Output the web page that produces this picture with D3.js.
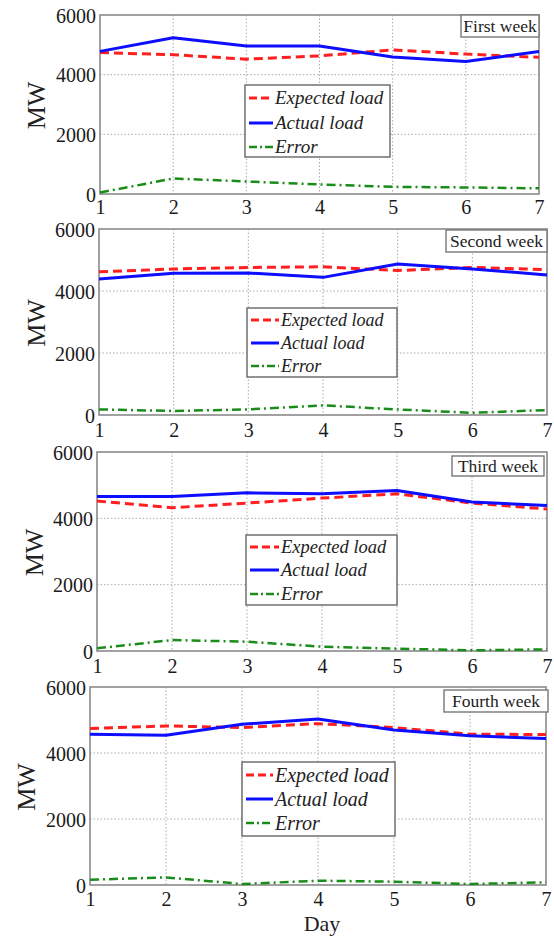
<!DOCTYPE html>
<html><head><meta charset="utf-8">
<script src="https://cdn.jsdelivr.net/npm/d3@7"></script>
<style>body{margin:0;background:#fff}svg{display:block}</style>
</head><body>
<script>
const days = [1, 2, 3, 4, 5, 6, 7];
const yTickValues = [0, 2000, 4000, 6000];
const weekTitles = ["First week", "Second week", "Third week", "Fourth week"];
const seriesNames = ["Expected load", "Actual load", "Error"];
const xAxisTitle = "Day";
const yAxisTitle = "MW";

const expectedWeek1 = [4740, 4670, 4520, 4630, 4830, 4690, 4580];
const actualWeek1   = [4780, 5240, 4960, 4960, 4590, 4440, 4780];
const errorWeek1    = [50, 520, 420, 320, 240, 220, 190];

const expectedWeek2 = [4620, 4710, 4760, 4780, 4660, 4760, 4690];
const actualWeek2   = [4390, 4570, 4580, 4440, 4870, 4710, 4520];
const errorWeek2    = [180, 130, 180, 310, 180, 70, 160];

const expectedWeek3 = [4520, 4320, 4460, 4610, 4740, 4460, 4280];
const actualWeek3   = [4660, 4660, 4770, 4740, 4840, 4490, 4390];
const errorWeek3    = [80, 330, 280, 130, 70, 20, 50];

const expectedWeek4 = [4740, 4820, 4770, 4890, 4770, 4570, 4560];
const actualWeek4   = [4570, 4540, 4870, 5030, 4700, 4520, 4440];
const errorWeek4    = [160, 230, 30, 130, 100, 30, 80];

const weeks = [
  {expected: expectedWeek1, actual: actualWeek1, error: errorWeek1},
  {expected: expectedWeek2, actual: actualWeek2, error: errorWeek2},
  {expected: expectedWeek3, actual: actualWeek3, error: errorWeek3},
  {expected: expectedWeek4, actual: actualWeek4, error: errorWeek4}
];

// layout (pixel geometry) per panel
const layout = [
  {left:100, right:539, top:15,  bottom:194, xLab:214, mwX:36, leg:{x:245,y:85, w:145,h:72, rows:[98,123,147], tx:275, fs:19}, tb:{x:461,y:15, w:78, h:22}},
  {left:99,  right:547, top:229, bottom:415, xLab:437, mwX:36, leg:{x:247,y:308,w:150,h:69, rows:[320,343,366], tx:281, fs:18}, tb:{x:446,y:230,w:101,h:22}},
  {left:97,  right:547, top:452, bottom:651, xLab:673, mwX:34, leg:{x:246,y:535,w:151,h:70, rows:[547,570,594], tx:281, fs:18.5}, tb:{x:452,y:456,w:92, h:20}},
  {left:90,  right:546, top:687, bottom:885, xLab:906, mwX:26, leg:{x:242,y:762,w:153,h:74, rows:[775,799,823], tx:275, fs:20}, tb:{x:444,y:690,w:104,h:22}}
];

const styles = [
  {key:"expected", color:"#ff1f1f", width:3,   dash:"9,5"},
  {key:"actual",   color:"#0d0dff", width:3,   dash:null},
  {key:"error",    color:"#1a8c1a", width:2.5, dash:"9,4,2,4"}
];

const svg = d3.select("body").append("svg").attr("width", 554).attr("height", 939);
const serif = "'Liberation Serif','Times New Roman',serif";

layout.forEach((L, i) => {
  const w = weeks[i];
  const x = d3.scaleLinear().domain([1, 7]).range([L.left, L.right]);
  const y = d3.scaleLinear().domain([0, 6000]).range([L.bottom, L.top]);
  const g = svg.append("g");

  // grid
  g.append("g").selectAll("line").data(days.slice(1, -1)).join("line")
    .attr("x1", d => x(d)).attr("x2", d => x(d)).attr("y1", L.top).attr("y2", L.bottom)
    .attr("stroke", "#aaa").attr("stroke-width", 1).attr("stroke-dasharray", "1.5,2");
  g.append("g").selectAll("line").data(yTickValues.slice(1, -1)).join("line")
    .attr("x1", L.left).attr("x2", L.right).attr("y1", d => y(d)).attr("y2", d => y(d))
    .attr("stroke", "#aaa").attr("stroke-width", 1).attr("stroke-dasharray", "1.5,2");

  // axes with d3
  const xAxis = d3.axisBottom(x).tickValues(days).tickSize(0).tickFormat(d3.format("d"));
  const ax = g.append("g").attr("transform", `translate(0,${L.bottom})`).call(xAxis);
  ax.select(".domain").remove();
  ax.selectAll("text").attr("y", 0).attr("dy", 0)
    .attr("transform", `translate(0,${L.xLab - L.bottom})`)
    .style("font-family", serif).style("font-size", "20px").attr("fill", "#1a1a1a");

  const yAxis = d3.axisLeft(y).tickValues(yTickValues).tickSize(0).tickFormat(d3.format("d"));
  const ay = g.append("g").attr("transform", `translate(${L.left},0)`).call(yAxis);
  ay.select(".domain").remove();
  ay.selectAll("text").attr("x", -4).attr("dy", "0.35em")
    .style("font-family", serif).style("font-size", "20px").attr("fill", "#1a1a1a");

  // border
  g.append("rect").attr("x", L.left).attr("y", L.top)
    .attr("width", L.right - L.left).attr("height", L.bottom - L.top)
    .attr("fill", "none").attr("stroke", "#8a8a8a").attr("stroke-width", 1.6);

  // lines
  const line = d3.line().x((d, j) => x(days[j])).y(d => y(d));
  styles.forEach(s => {
    const p = g.append("path").datum(w[s.key]).attr("d", line)
      .attr("fill", "none").attr("stroke", s.color).attr("stroke-width", s.width)
      .attr("stroke-linejoin", "round");
    if (s.dash) p.attr("stroke-dasharray", s.dash);
  });

  // title box
  g.append("rect").attr("x", L.tb.x).attr("y", L.tb.y).attr("width", L.tb.w).attr("height", L.tb.h)
    .attr("fill", "#fff").attr("stroke", "#777").attr("stroke-width", 1.4);
  g.append("text").attr("x", L.tb.x + L.tb.w / 2).attr("y", L.tb.y + L.tb.h / 2 + 5.5)
    .attr("text-anchor", "middle").style("font-family", serif).style("font-size", "17.5px")
    .attr("fill", "#222").text(weekTitles[i]);

  // legend
  const lg = L.leg;
  g.append("rect").attr("x", lg.x).attr("y", lg.y).attr("width", lg.w).attr("height", lg.h)
    .attr("fill", "#fff").attr("stroke", "#666").attr("stroke-width", 1.4);
  styles.forEach((s, k) => {
    const ly = lg.rows[k];
    const l = g.append("line").attr("x1", lg.x + 4).attr("x2", lg.tx - 2).attr("y1", ly).attr("y2", ly)
      .attr("stroke", s.color).attr("stroke-width", s.width);
    if (s.dash) l.attr("stroke-dasharray", s.key === "expected" ? "8,4" : "8,3,2,3");
    g.append("text").attr("x", lg.tx).attr("y", ly + lg.fs * 0.33)
      .style("font-family", serif).style("font-size", lg.fs + "px").style("font-style", "italic")
      .attr("fill", "#222").text(seriesNames[k]);
  });

  // y title
  const cy = (L.top + L.bottom) / 2;
  g.append("text").attr("transform", `translate(${L.mwX + 9},${cy + 1}) rotate(-90)`)
    .attr("text-anchor", "middle").style("font-family", serif).style("font-size", "26px")
    .attr("fill", "#222").text(yAxisTitle);
});

const L4 = layout[3];
svg.append("text").attr("x", (L4.left + L4.right) / 2 + 4).attr("y", 931)
  .attr("text-anchor", "middle").style("font-family", serif).style("font-size", "22px")
  .attr("fill", "#222").text(xAxisTitle);
</script>
</body></html>
